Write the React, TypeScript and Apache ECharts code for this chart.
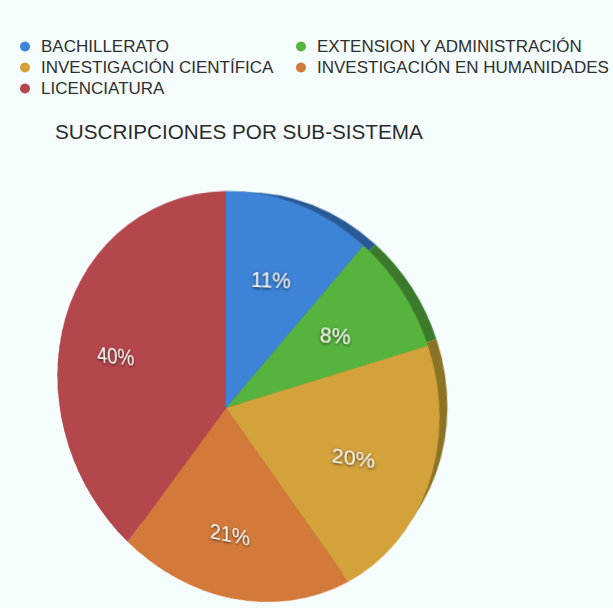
import React, { useEffect, useRef } from 'react';
import * as echarts from 'echarts';

const categories = [
  'BACHILLERATO',
  'EXTENSION Y ADMINISTRACIÓN',
  'INVESTIGACIÓN CIENTÍFICA',
  'INVESTIGACIÓN EN HUMANIDADES',
  'LICENCIATURA',
];
const values = [11, 8, 20, 21, 40];
const faceColors = ['#3d83d8', '#56b43e', '#d4a23b', '#d37a3b', '#b3474c'];
const rimColors = ['#2a5a96', '#3b7a2a', '#8a7322', '#8f5428', '#7a3033'];
const legendColumns = [
  [0, 2, 4],
  [1, 3],
];
const titleText = 'SUSCRIPCIONES POR SUB-SISTEMA';

const FONT = '"Liberation Sans", Arial, Helvetica, sans-serif';
const BOX = 500;
const R = 208.5;
const CX = 226;
const CY = 408;
const PERSP = 745;
const ROT_X = -14.2;
const ROT_Y = -25.6;
const DEPTH = 40;
const LABEL_FRAC = 0.64;
const LABEL_SIZE = 20;
const TF = `perspective(${PERSP}px) rotateX(${ROT_X}deg) rotateY(${ROT_Y}deg)`;

function pieData(colors: string[]) {
  return categories.map((name, i) => ({
    name,
    value: values[i],
    itemStyle: { color: colors[i] },
  }));
}

// font size compensation so labels look equally wide after the 3D tilt
function labelSizes(): number[] {
  const total = values.reduce((a, b) => a + b, 0);
  const ty = (-ROT_Y * Math.PI) / 180;
  const ax = (ROT_X * Math.PI) / 180;
  let acc = 0;
  return values.map((v) => {
    const mid = ((acc + v / 2) / total) * 2 * Math.PI;
    acc += v;
    const r = R * LABEL_FRAC;
    const u = r * Math.sin(mid);
    const w = -r * Math.cos(mid);
    const z1 = u * Math.sin(ty);
    const z2 = w * Math.sin(ax) + z1 * Math.cos(ax);
    const f = PERSP / (PERSP - z2);
    const scale = f * Math.cos(ty);
    return LABEL_SIZE / scale;
  });
}

export default function App() {
  const mainRef = useRef<HTMLDivElement>(null);
  const rimRef = useRef<HTMLDivElement>(null);
  const faceRef = useRef<HTMLDivElement>(null);

  useEffect(() => {
    const main = echarts.init(mainRef.current!, null, { renderer: 'svg' });
    const rim = echarts.init(rimRef.current!, null, { renderer: 'svg' });
    const face = echarts.init(faceRef.current!, null, { renderer: 'svg' });

    const legendLefts = [20, 296];
    main.setOption({
      animation: false,
      backgroundColor: 'transparent',
      title: {
        text: titleText,
        left: 55,
        top: 121,
        padding: 0,
        textStyle: { fontFamily: FONT, fontSize: 20.7, fontWeight: 'normal', color: '#2b2b2b' },
      },
      legend: legendColumns.map((col, k) => ({
        orient: 'vertical',
        left: legendLefts[k],
        top: 38,
        padding: 0,
        itemGap: 4,
        itemWidth: 22,
        itemHeight: 10,
        icon: 'circle',
        selectedMode: false,
        data: col.map((i) => categories[i]),
        textStyle: { fontFamily: FONT, fontSize: 17, color: '#2f2f2f' },
      })),
      series: [
        {
          type: 'pie',
          radius: 0,
          center: [-100, -100],
          silent: true,
          label: { show: false },
          data: pieData(faceColors),
        },
      ],
    });

    rim.setOption({
      animation: false,
      series: [
        {
          type: 'pie',
          radius: R,
          center: ['50%', '50%'],
          startAngle: 90,
          silent: true,
          label: { show: false },
          labelLine: { show: false },
          itemStyle: { borderWidth: 0 },
          data: pieData(rimColors),
        },
      ],
    });

    const sizes = labelSizes();
    face.setOption({
      animation: false,
      series: [
        {
          type: 'pie',
          radius: R,
          center: ['50%', '50%'],
          startAngle: 90,
          silent: true,
          label: { show: false },
          labelLine: { show: false },
          itemStyle: { borderWidth: 0 },
          data: pieData(faceColors),
        },
        {
          type: 'pie',
          radius: R * LABEL_FRAC * 2,
          center: ['50%', '50%'],
          startAngle: 90,
          silent: true,
          itemStyle: { color: 'transparent', borderWidth: 0 },
          label: {
            show: true,
            position: 'inside',
            formatter: '{c}%',
            fontFamily: FONT,
            fontSize: LABEL_SIZE,
            color: '#f6f6f0',
            textShadowColor: 'rgba(0,0,0,0.75)',
            textShadowBlur: 3,
            textShadowOffsetX: 0,
            textShadowOffsetY: 1,
          },
          labelLine: { show: false },
          data: categories.map((name, i) => ({
            name,
            value: values[i],
            label: { fontSize: sizes[i] },
          })),
        },
      ],
    });

    return () => {
      main.dispose();
      rim.dispose();
      face.dispose();
    };
  }, []);

  const pieStyle: React.CSSProperties = {
    position: 'absolute',
    left: CX - BOX / 2,
    top: CY - BOX / 2,
    width: BOX,
    height: BOX,
    transformOrigin: '50% 50%',
  };

  return (
    <div
      style={{
        position: 'fixed',
        left: 0,
        top: 0,
        width: 613,
        height: 608,
        overflow: 'hidden',
        background: '#f5fdfe',
      }}
    >
      <div ref={mainRef} style={{ position: 'absolute', left: 0, top: 0, width: 613, height: 608 }} />
      <div ref={rimRef} style={{ ...pieStyle, transform: `${TF} translateZ(-${DEPTH}px)` }} />
      <div ref={faceRef} style={{ ...pieStyle, transform: TF }} />
    </div>
  );
}
